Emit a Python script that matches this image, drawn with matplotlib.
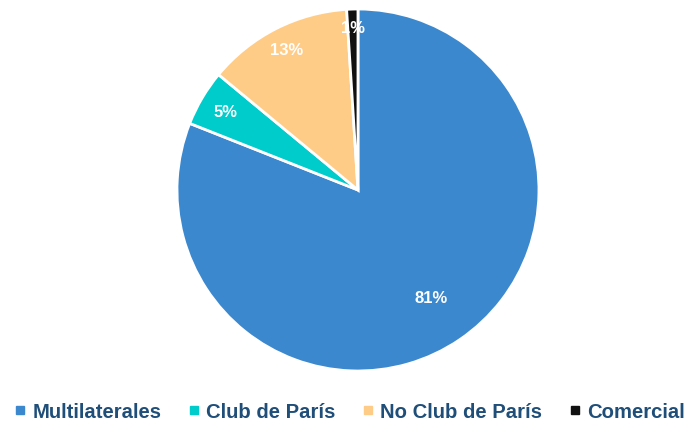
import numpy as np
import matplotlib.pyplot as plt
from matplotlib.lines import Line2D

plt.rcParams['font.family'] = ['Liberation Sans', 'DejaVu Sans']

categories = ["Multilaterales", "Club de París", "No Club de París", "Comercial"]
values = [81, 5, 13, 1]
colors = ["#3C88CF", "#00CCCC", "#FFCC88", "#111111"]
# label distance from centre, as a fraction of radius (matches reference placement)
label_dist = [0.72, 0.85, 0.87, 0.90]

fig = plt.figure(figsize=(6.9, 4.27), dpi=100)
ax = fig.add_axes([0.2565, 0.1288, 0.5246, 0.8478])

wedges, texts, autotexts = ax.pie(
    values, colors=colors, startangle=90, counterclock=False,
    autopct="%d%%", pctdistance=0.8,
    wedgeprops=dict(edgecolor="white", linewidth=2),
    textprops=dict(color="white", fontsize=12, fontweight="bold"),
)

for w, t, d in zip(wedges, autotexts, label_dist):
    ang = np.deg2rad((w.theta1 + w.theta2) / 2)
    t.set_position((d * np.cos(ang), d * np.sin(ang)))

ax.set_xlim(-1, 1)
ax.set_ylim(-1, 1)
ax.set_aspect("equal")
ax.axis("off")

handles = [Line2D([], [], marker="s", linestyle="none", markersize=6,
                  markerfacecolor=c, markeredgecolor=c) for c in colors]
fig.legend(handles, categories, loc="center", bbox_to_anchor=(0.507, 0.033),
           ncol=4, frameon=False, handlelength=0.5, handletextpad=0.35,
           columnspacing=1.35, borderpad=0.2,
           prop=dict(size=14.6, weight="bold"), labelcolor="#1F4E79")

fig.savefig("out.png", dpi=100)
